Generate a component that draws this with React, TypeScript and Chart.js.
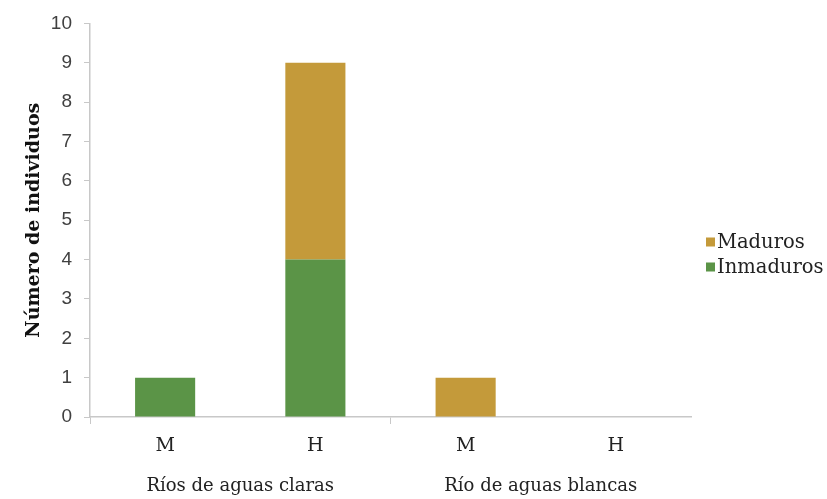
import React, { useEffect, useRef } from "react";
import { Chart, registerables } from "chart.js";

Chart.register(...registerables);

const categories = ["M", "H", "M", "H"];
const groups = ["Ríos de aguas claras", "Río de aguas blancas"];
const inmaduros = [1, 4, 0, 0];
const maduros = [0, 5, 1, 0];
const yTitle = "Número de individuos";

const GOLD = "#C49A3A";
const GREEN = "#5B9447";
const SERIF = "'DejaVu Serif', serif";

const legendPlugin = {
  id: "customLegend",
  afterDraw(chart: any) {
    const ctx = chart.ctx;
    const items = [...chart.data.datasets].reverse();
    ctx.save();
    ctx.font = `19.5px ${SERIF}`;
    ctx.textBaseline = "middle";
    ctx.textAlign = "left";
    items.forEach((ds: any, i: number) => {
      const cy = 242 + i * 25;
      ctx.fillStyle = ds.backgroundColor;
      ctx.fillRect(706, cy - 4.5, 9, 9);
      ctx.fillStyle = "#222";
      ctx.fillText(ds.label, 717, cy + 1);
    });
    ctx.restore();
  },
};

export default function App() {
  const ref = useRef<HTMLCanvasElement>(null);
  useEffect(() => {
    const chart = new Chart(ref.current!, {
      type: "bar",
      data: {
        labels: categories,
        datasets: [
          { label: "Inmaduros", data: inmaduros, backgroundColor: GREEN, xAxisID: "x" },
          { label: "Maduros", data: maduros, backgroundColor: GOLD, xAxisID: "x" },
        ],
      },
      options: {
        animation: false,
        responsive: false,
        layout: { padding: { top: 20, right: 136, left: 0, bottom: 0 } },
        datasets: { bar: { categoryPercentage: 1, barPercentage: 0.4 } },
        plugins: { legend: { display: false }, tooltip: { enabled: false } },
        scales: {
          x: {
            stacked: true,
            offset: true,
            border: { display: true, color: "#c8c8c8", width: 1.5 },
            grid: {
              offset: true,
              drawOnChartArea: false,
              drawTicks: true,
              tickLength: 7,
              color: (c: any) => (c.index % 2 === 0 ? "#c8c8c8" : "rgba(0,0,0,0)"),
            },
            ticks: { color: "#222", font: { family: SERIF, size: 19 }, padding: 11 },
            afterFit: (s: any) => { s.height = 40; },
          },
          x2: {
            type: "category",
            labels: groups,
            position: "bottom",
            offset: true,
            border: { display: false },
            grid: { display: false, drawTicks: false },
            ticks: { color: "#222", font: { family: SERIF, size: 18 }, padding: 19 },
            afterFit: (s: any) => { s.height = 42; },
          },
          y: {
            stacked: true,
            min: 0,
            max: 10,
            border: { display: true, color: "#c8c8c8", width: 1.5 },
            grid: { drawOnChartArea: false, drawTicks: true, tickLength: 6, color: "#c8c8c8" },
            ticks: {
              stepSize: 1,
              color: "#404040",
              font: { family: "'Liberation Sans', Arial, sans-serif", size: 19 },
              padding: 12,
            },
            title: {
              display: true,
              text: yTitle,
              color: "#111",
              font: { family: SERIF, size: 19, weight: "bold" },
              padding: { top: 23, bottom: 0 },
            },
            afterFit: (s: any) => { s.width = 90; },
          },
        },
      },
      plugins: [legendPlugin],
    });
    return () => chart.destroy();
  }, []);
  return (
    <div style={{ position: "absolute", left: 0, top: 0, width: 827, height: 499, background: "#fff" }}>
      <canvas ref={ref} width={827} height={499} style={{ display: "block" }} />
    </div>
  );
}
